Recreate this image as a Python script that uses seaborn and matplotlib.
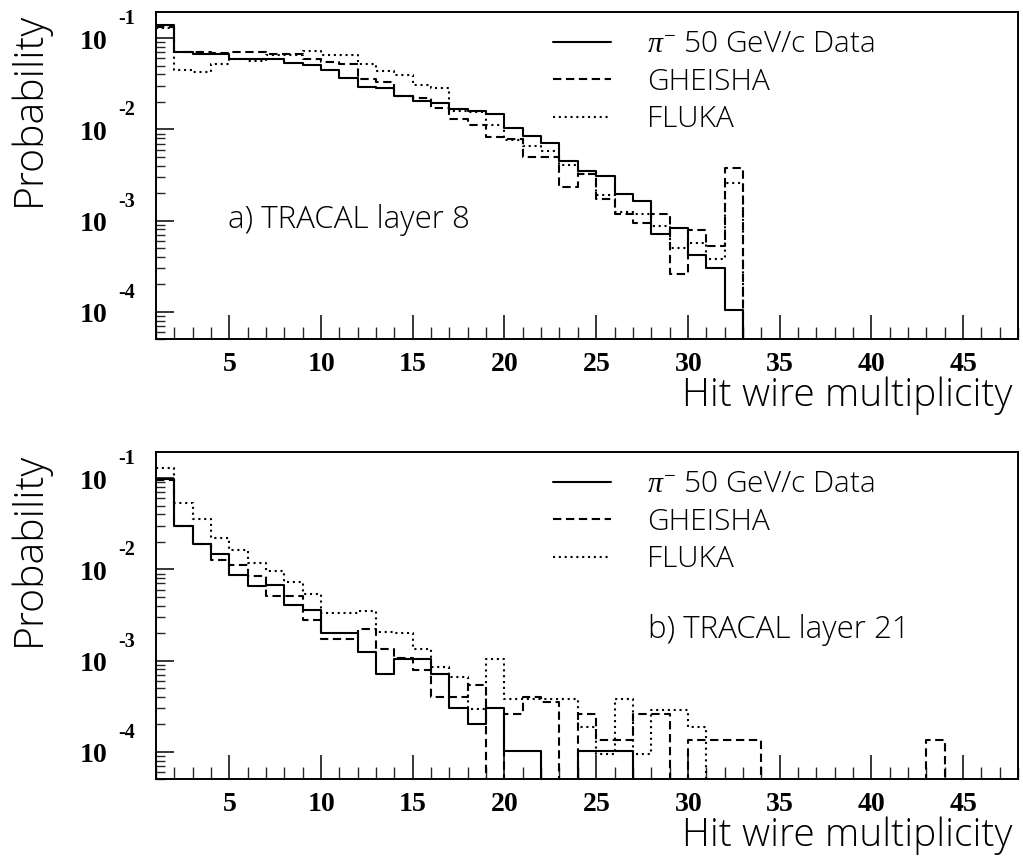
import numpy as np
import pandas as pd
import matplotlib
matplotlib.use("Agg")
import matplotlib.pyplot as plt
from matplotlib.lines import Line2D
from matplotlib.ticker import FixedLocator, FuncFormatter, LogLocator, NullFormatter, MultipleLocator
from matplotlib.transforms import blended_transform_factory, offset_copy
import seaborn as sns

# ---------------- data (probability per hit-wire multiplicity bin, bins start at 1) -------------
data_top = [0.139, 0.0707, 0.0678, 0.0667, 0.0587, 0.0587, 0.0587, 0.0539, 0.0504, 0.0445,
            0.0369, 0.0294, 0.0286, 0.0232, 0.0207, 0.0196, 0.0168, 0.0158, 0.0148, 0.0104,
            0.0084, 0.0071, 0.00446, 0.00346, 0.00305, 0.00196, 0.00164, 0.000706, 0.000822,
            0.000418, 0.000306, 0.000104, 0.0]
gheisha_top = [0.133, 0.070, 0.070, 0.069, 0.0707, 0.070, 0.0678, 0.0678, 0.0597, 0.0553,
               0.0526, 0.0360, 0.0330, 0.0232, 0.0222, 0.0172, 0.0130, 0.0113, 0.0082, 0.0079,
               0.00493, 0.00493, 0.00236, 0.00323, 0.00173, 0.00117, 0.000933, 0.00117, 0.000263,
               0.000788, 0.00053, 0.00377, 0.0]
fluka_top = [0.128, 0.0445, 0.0426, 0.0526, 0.0597, 0.0563, 0.066, 0.066, 0.0725, 0.065,
             0.065, 0.0518, 0.0437, 0.0392, 0.0303, 0.0281, 0.0160, 0.0156, 0.0113, 0.0077,
             0.00652, 0.00574, 0.0041, 0.00323, 0.00191, 0.00125, 0.00117, 0.00088, 0.000495,
             0.000562, 0.000384, 0.00257, 0.0]

data_bot = [0.099, 0.0298, 0.0188, 0.0146, 0.0086, 0.0065, 0.0068, 0.0041, 0.0036, 0.0020,
            0.0020, 0.00125, 0.00071, 0.00103, 0.00103, 0.00072, 0.000306, 0.000204, 0.000306,
            0.000102, 0.000102, 0.0, 0.0, 0.000102, 0.000102, 0.000102, 0.0]
gheisha_bot = [0.095, 0.0298, 0.0188, 0.0128, 0.0113, 0.0084, 0.00506, 0.00506, 0.0028, 0.00171,
               0.00171, 0.00221, 0.00133, 0.00106, 0.00079, 0.0004, 0.0004, 0.00054, 0.0,
               0.00026, 0.0004, 0.00035, 0.0, 0.00026, 0.000134, 0.000134, 0.00026, 0.00026,
               0.0, 0.000134, 0.000134, 0.000134, 0.000134, 0.0, 0.0, 0.0, 0.0, 0.0, 0.0,
               0.0, 0.0, 0.0, 0.000134, 0.0]
fluka_bot = [0.128, 0.054, 0.036, 0.0222, 0.0163, 0.0118, 0.00953, 0.00722, 0.00541, 0.00332,
             0.00332, 0.00352, 0.00208, 0.00201, 0.00133, 0.000857, 0.000655, 0.000291, 0.00103,
             0.000384, 0.000384, 0.000384, 0.000384, 0.000187, 0.0000953, 0.000384, 0.0000953,
             0.000286, 0.000286, 0.000187, 0.0]

legend_labels = [r"$\pi^{-}$ 50 GeV/c Data", "GHEISHA", "FLUKA"]
panel_labels = ["a) TRACAL layer 8", "b) TRACAL layer 21"]
x_label = "Hit wire multiplicity"
y_label = "Probability"
x_ticks = [5, 10, 15, 20, 25, 30, 35, 40, 45]
y_ticks = [1e-4, 1e-3, 1e-2, 1e-1]

# ---------------- style ----------------
sns.set_theme(style="white")
plt.rcParams['font.family'] = ['Open Sans', 'DejaVu Sans']
plt.rcParams['text.color'] = 'black'
plt.rcParams['mathtext.fontset'] = 'custom'
plt.rcParams['mathtext.rm'] = 'Liberation Serif'
plt.rcParams['mathtext.it'] = 'Liberation Serif:italic'
plt.rcParams['mathtext.bf'] = 'Liberation Serif:bold'

LW = 1.5
styles = [dict(linestyle='-'), dict(linestyle=(0, (4, 2.2))), dict(linestyle=(0, (1, 1.8)))]

fig = plt.figure(figsize=(10.23, 8.59), dpi=100)
ax_top = fig.add_axes([0.1525, 0.605, 0.8426, 0.3814])
ax_bot = fig.add_axes([0.1525, 0.0928, 0.8426, 0.3814])


def draw_hist(ax, vals, st):
    vals = list(map(float, vals))
    edges = np.arange(1, len(vals) + 2)
    df = pd.DataFrame({"m": edges, "p": vals + [vals[-1]]})
    sns.lineplot(data=df, x="m", y="p", drawstyle="steps-post", estimator=None, sort=False,
                 color="black", linewidth=LW, ax=ax, **st)


def style_axes(ax, legend_anchor, panel_label, panel_xy):
    ax.set_yscale('log')
    ax.set_xlim(1, 48)
    ax.set_ylim(5e-5, 0.195)
    ax.xaxis.set_major_locator(FixedLocator(x_ticks))
    ax.xaxis.set_minor_locator(MultipleLocator(1))
    ax.xaxis.set_major_formatter(FuncFormatter(lambda v, p: r"$\mathbf{%d}$" % int(round(v))))
    ax.yaxis.set_major_locator(FixedLocator(y_ticks))
    ax.yaxis.set_minor_locator(LogLocator(base=10, subs=np.arange(2, 10), numticks=30))
    ax.yaxis.set_minor_formatter(NullFormatter())
    ax.yaxis.set_major_formatter(FuncFormatter(lambda v, p: r"$\mathbf{10}$"))
    ax.tick_params(axis='y', which='major', direction='in', length=13, width=1.1,
                   left=True, right=False, labelsize=20, pad=35, colors='black')
    ax.tick_params(axis='y', which='minor', direction='in', length=6.5, width=1.0,
                   left=True, right=False)
    ax.tick_params(axis='x', which='major', direction='in', length=17, width=1.1,
                   bottom=True, top=False, labelsize=20, pad=8, colors='black')
    ax.tick_params(axis='x', which='minor', direction='in', length=9, width=1.0,
                   bottom=True, top=False)
    # exponents of the decade labels
    tr = offset_copy(blended_transform_factory(ax.transAxes, ax.transData), fig=fig,
                     x=0, y=19, units='dots')
    for v in y_ticks:
        ax.text(-0.0441, v, "%d" % int(round(np.log10(v))), transform=tr, ha='left',
                va='center', fontsize=14.5, fontfamily='Liberation Serif', fontweight='bold',
                color='black', clip_on=False)
    for s in ax.spines.values():
        s.set_visible(True)
        s.set_color('black')
        s.set_linewidth(1.4)
    ax.set_xlabel(x_label, fontsize=28, loc='right', color='black', va='baseline',
                  fontweight='light')
    ax.xaxis.set_label_coords(0.994, -0.205)
    ax.set_ylabel(y_label, fontsize=29.5, loc='top', color='black', fontweight='light')
    ax.yaxis.set_label_coords(-0.123, 1.0)
    handles = [Line2D([], [], color='black', linewidth=LW, **st) for st in styles]
    ax.legend(handles, legend_labels, loc='upper left', bbox_to_anchor=legend_anchor,
              frameon=False, prop=dict(size=21.5, weight='light'), handlelength=1.95,
              labelcolor='black', handletextpad=1.2, labelspacing=0.27, borderpad=0,
              borderaxespad=0)
    ax.text(panel_xy[0], panel_xy[1], panel_label, transform=ax.transAxes,
            fontsize=22.5, va='center', ha='left', color='black', fontweight='light')


for ax, series in [(ax_top, [data_top, gheisha_top, fluka_top]),
                   (ax_bot, [data_bot, gheisha_bot, fluka_bot])]:
    for vals, st in zip(series, styles):
        draw_hist(ax, vals, st)

style_axes(ax_top, (0.4606, 0.945), panel_labels[0], (0.0835, 0.364))
style_axes(ax_bot, (0.4606, 0.945), panel_labels[1], (0.571, 0.456))

fig.savefig("out.png", dpi=100)
